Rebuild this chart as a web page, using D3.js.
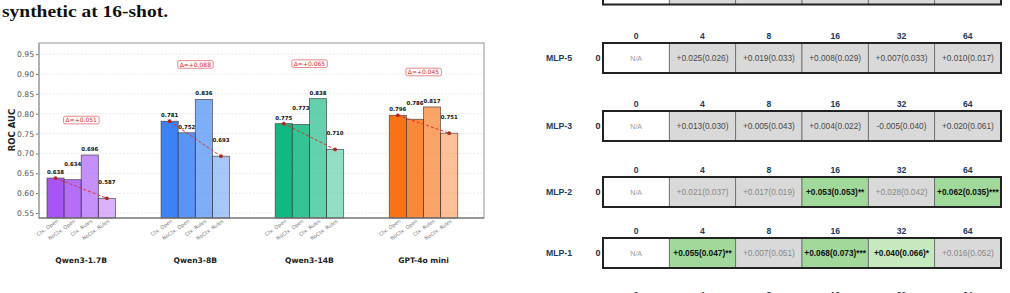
<!DOCTYPE html>
<html>
<head>
<meta charset="utf-8">
<script src="https://cdn.jsdelivr.net/npm/d3@7"></script>
<style>
  body { margin: 0; background: #fff; }
  svg { display: block; }
</style>
</head>
<body>
<div id="chart"></div>
<script>
// ---- data: left bar chart ----
var models = ["Qwen3-1.7B", "Qwen3-8B", "Qwen3-14B", "GPT-4o mini"];
var conditions = ["Ctx. Open", "NoCtx. Open", "Ctx. Rules", "NoCtx. Rules"];
var rocAuc = [
  [0.638, 0.634, 0.696, 0.587],
  [0.781, 0.752, 0.836, 0.693],
  [0.775, 0.773, 0.838, 0.710],
  [0.796, 0.786, 0.817, 0.751]
];
var yTicks = [0.55, 0.60, 0.65, 0.70, 0.75, 0.80, 0.85, 0.90, 0.95];
var modelColors = ["#a855f7", "#3b82f6", "#10b981", "#f97316"];
var shadeOpacity = [1, 0.85, 0.65, 0.45];

// ---- data: right tables ----
var shots = ["0", "4", "8", "16", "32", "64"];
var probes = ["MLP-5", "MLP-3", "MLP-2", "MLP-1"];
var meanDiff = [
  [null, 0.025, 0.019, 0.008, 0.007, 0.010],
  [null, 0.013, 0.005, 0.004, -0.005, 0.020],
  [null, 0.021, 0.017, 0.053, 0.028, 0.062],
  [null, 0.055, 0.007, 0.068, 0.040, 0.016]
];
var sdDiff = [
  [null, 0.026, 0.033, 0.029, 0.033, 0.017],
  [null, 0.030, 0.043, 0.022, 0.040, 0.061],
  [null, 0.037, 0.019, 0.053, 0.042, 0.035],
  [null, 0.047, 0.051, 0.073, 0.066, 0.052]
];
var stars = [
  ["", "", "", "", "", ""],
  ["", "", "", "", "", ""],
  ["", "", "", "**", "", "***"],
  ["", "**", "", "***", "*", ""]
];

var svg = d3.select("#chart")
  .append("svg")
    .attr("width", 1010)
    .attr("height", 293);

// caption fragment at top left
svg.append("text")
  .attr("x", 2)
  .attr("y", 17)
  .attr("textLength", 166)
  .attr("lengthAdjust", "spacingAndGlyphs")
  .style("font-family", "'Liberation Serif', serif")
  .style("font-weight", "bold")
  .style("font-size", "17px")
  .style("fill", "#111")
  .text("synthetic at 16-shot.");

// ---- left chart ----
var plot = {left: 39, right: 484, top: 43, bottom: 218};
var font = "'DejaVu Sans', sans-serif";

var y = d3.scaleLinear()
  .domain([0.5375, 0.978])
  .range([plot.bottom, plot.top]);

var x = d3.scaleLinear()
  .domain([-0.37, 3.53])
  .range([plot.left, plot.right]);

var barW = 0.15;
function barX(i, j) { return x(i + (j - 2) * barW); }
function barC(i, j) { return x(i + (j - 1.5) * barW); }

// grid
svg.append("g")
  .selectAll("line")
  .data(yTicks)
  .enter()
  .append("line")
    .attr("x1", plot.left)
    .attr("x2", plot.right)
    .attr("y1", function(d) { return y(d); })
    .attr("y2", function(d) { return y(d); })
    .attr("stroke", "#e2e2e2")
    .attr("stroke-width", 0.7)
    .attr("stroke-dasharray", "2,1.5");

// y axis
var yAxis = svg.append("g")
  .attr("transform", "translate(" + plot.left + ",0)")
  .call(d3.axisLeft(y).tickValues(yTicks).tickFormat(d3.format(".2f")).tickSize(3).tickPadding(2));
yAxis.select(".domain").remove();
yAxis.selectAll(".tick line").attr("stroke", "#777");
yAxis.selectAll("text")
  .style("font-family", font)
  .style("font-size", "7.6px")
  .style("fill", "#555");

svg.append("text")
  .attr("transform", "translate(15,130) rotate(-90)")
  .attr("text-anchor", "middle")
  .style("font-family", font)
  .style("font-weight", "bold")
  .style("font-size", "8.5px")
  .style("fill", "#222")
  .text("ROC AUC");

// bars
var groups = svg.append("g").selectAll("g")
  .data(rocAuc)
  .enter()
  .append("g");

groups.selectAll("rect")
  .data(function(d, i) { return d.map(function(v, j) { return {i: i, j: j, v: v}; }); })
  .enter()
  .append("rect")
    .attr("x", function(d) { return barX(d.i, d.j); })
    .attr("width", function(d) { return barX(d.i, d.j + 1) - barX(d.i, d.j); })
    .attr("y", function(d) { return y(d.v); })
    .attr("height", function(d) { return plot.bottom - y(d.v); })
    .attr("fill", function(d) { return modelColors[d.i]; })
    .attr("fill-opacity", function(d) { return shadeOpacity[d.j]; })
    .attr("stroke", "#333")
    .attr("stroke-opacity", 0.75)
    .attr("stroke-width", 0.8);

// frame
svg.append("rect")
  .attr("x", plot.left)
  .attr("y", plot.top)
  .attr("width", plot.right - plot.left)
  .attr("height", plot.bottom - plot.top)
  .attr("fill", "none")
  .attr("stroke", "#888")
  .attr("stroke-width", 0.9);
svg.append("line")
  .attr("x1", plot.left).attr("x2", plot.left)
  .attr("y1", plot.top).attr("y2", plot.bottom)
  .attr("stroke", "#aaa").attr("stroke-width", 1.6);
svg.append("line")
  .attr("x1", plot.left).attr("x2", plot.right)
  .attr("y1", plot.bottom).attr("y2", plot.bottom)
  .attr("stroke", "#666").attr("stroke-width", 1);

// value labels
groups.selectAll("text.val")
  .data(function(d, i) { return d.map(function(v, j) { return {i: i, j: j, v: v, all: d}; }); })
  .enter()
  .append("text")
    .attr("class", "val")
    .attr("x", function(d) { return barC(d.i, d.j); })
    .attr("y", function(d) {
      var lift = 4;
      if (d.j == 3 || (d.j == 1 && Math.abs(d.all[0] - d.v) < 0.02)) lift = 14;
      return y(d.v) - lift;
    })
    .attr("text-anchor", "middle")
    .style("font-family", font)
    .style("font-weight", "bold")
    .style("font-size", "5.4px")
    .style("fill", "#111")
    .text(function(d) { return d.v.toFixed(3); });

// drop lines (Ctx. Open -> NoCtx. Rules)
groups.append("line")
  .attr("x1", function(d, i) { return barC(i, 0); })
  .attr("y1", function(d) { return y(d[0]); })
  .attr("x2", function(d, i) { return barC(i, 3); })
  .attr("y2", function(d) { return y(d[3]); })
  .attr("stroke", "#e0302a")
  .attr("stroke-width", 1)
  .attr("stroke-dasharray", "3,2");

groups.selectAll("circle")
  .data(function(d, i) { return [{i: i, j: 0, v: d[0]}, {i: i, j: 3, v: d[3]}]; })
  .enter()
  .append("circle")
    .attr("cx", function(d) { return barC(d.i, d.j); })
    .attr("cy", function(d) { return y(d.v); })
    .attr("r", 1.9)
    .attr("fill", "#b3261e");

// delta badges
groups.each(function(d, i) {
  var g = d3.select(this);
  var cx = x(i), cy = y(d3.max(d) + 0.088);
  var t = g.append("text")
    .attr("x", cx)
    .attr("y", cy + 2.1)
    .attr("text-anchor", "middle")
    .style("font-family", font)
    .style("font-size", "6px")
    .style("fill", "#dc2626")
    .text("\u0394=+" + (d[0] - d[3]).toFixed(3));
  var bb = t.node().getBBox();
  g.insert("rect", "text:last-child")
    .attr("x", bb.x - 2)
    .attr("y", cy - 3.8)
    .attr("width", bb.width + 4)
    .attr("height", 7.6)
    .attr("rx", 1.5)
    .attr("fill", "#fff")
    .attr("stroke", "#e36a6a")
    .attr("stroke-width", 0.8);
});

// condition tick labels
groups.selectAll("text.cond")
  .data(function(d, i) { return conditions.map(function(c, j) { return {i: i, j: j, c: c}; }); })
  .enter()
  .append("text")
    .attr("class", "cond")
    .attr("transform", function(d) { return "translate(" + (barC(d.i, d.j) + 3) + "," + (plot.bottom + 4) + ") rotate(-35)"; })
    .attr("text-anchor", "end")
    .style("font-family", font)
    .style("font-size", "5px")
    .style("fill", "#777")
    .text(function(d) { return d.c; });

// model labels
svg.append("g").selectAll("text")
  .data(models)
  .enter()
  .append("text")
    .attr("x", function(d, i) { return x(i); })
    .attr("y", 263)
    .attr("text-anchor", "middle")
    .style("font-family", font)
    .style("font-weight", "bold")
    .style("font-size", "7.6px")
    .style("fill", "#222")
    .text(function(d) { return d; });

// ---- right tables ----
var sans = "'Liberation Sans', Arial, sans-serif";
var navy = "#1c3a5e";
var col = d3.scaleBand().domain(shots).range([603, 1001]);
var cellH = 30;
var tableTops = [43, 111, 177, 238];

function cellText(r, c) {
  if (meanDiff[r][c] === null) return "N/A";
  var m = meanDiff[r][c];
  return (m >= 0 ? "+" : "") + m.toFixed(3) + "(" + sdDiff[r][c].toFixed(3) + ")" + stars[r][c];
}
function cellFill(r, c) {
  if (meanDiff[r][c] === null) return "#fff";
  var s = stars[r][c];
  if (s == "*") return "#c7e9c0";
  if (s.length > 1) return "#a1d99b";
  return "#d9d9d9";
}

function drawHeader(top) {
  svg.append("g").selectAll("text")
    .data(shots)
    .enter()
    .append("text")
      .attr("x", function(d) { return col(d) + col.bandwidth() / 2; })
      .attr("y", top - 4.5)
      .attr("text-anchor", "middle")
      .style("font-family", sans)
      .style("font-weight", "bold")
      .style("font-size", "8.6px")
      .style("fill", navy)
      .text(function(d) { return d; });
}

// partial table cut at the top edge
var partial = svg.append("g");
partial.selectAll("rect")
  .data(shots)
  .enter()
  .append("rect")
    .attr("x", function(d) { return col(d); })
    .attr("y", 4.5 - cellH)
    .attr("width", col.bandwidth())
    .attr("height", cellH)
    .attr("fill", function(d, c) { return c == 0 ? "#fff" : "#d9d9d9"; })
    .attr("stroke", "#666")
    .attr("stroke-width", 0.8);
partial.append("rect")
  .attr("x", 603).attr("y", 4.5 - cellH)
  .attr("width", 398).attr("height", cellH)
  .attr("fill", "none").attr("stroke", "#222").attr("stroke-width", 2);

probes.forEach(function(p, r) {
  var top = tableTops[r];
  drawHeader(top);
  var g = svg.append("g");
  var faded = stars[r].some(function(s) { return s != ""; });

  g.selectAll("rect")
    .data(shots)
    .enter()
    .append("rect")
      .attr("x", function(d) { return col(d); })
      .attr("y", top)
      .attr("width", col.bandwidth())
      .attr("height", cellH)
      .attr("fill", function(d, c) { return cellFill(r, c); })
      .attr("stroke", "#666")
      .attr("stroke-width", 0.8);

  g.selectAll("text")
    .data(shots)
    .enter()
    .append("text")
      .attr("x", function(d) { return col(d) + col.bandwidth() / 2; })
      .attr("y", top + cellH / 2 + 3)
      .attr("text-anchor", "middle")
      .style("font-family", sans)
      .style("font-size", function(d, c) { return meanDiff[r][c] === null ? "7px" : "8.3px"; })
      .style("font-weight", function(d, c) { return stars[r][c] ? "bold" : "normal"; })
      .style("fill", function(d, c) {
        if (meanDiff[r][c] === null) return "#999";
        if (stars[r][c]) return "#111";
        return faded ? "#888" : "#4a4a4a";
      })
      .text(function(d, c) { return cellText(r, c); });

  g.append("rect")
    .attr("x", 603).attr("y", top)
    .attr("width", 398).attr("height", cellH)
    .attr("fill", "none").attr("stroke", "#222").attr("stroke-width", 2);

  g.append("text")
    .attr("x", 546)
    .attr("y", top + cellH / 2 + 3)
    .style("font-family", sans)
    .style("font-weight", "bold")
    .style("font-size", "8.7px")
    .style("fill", navy)
    .text(p);

  g.append("text")
    .attr("x", 598)
    .attr("y", top + cellH / 2 + 3.2)
    .attr("text-anchor", "middle")
    .style("font-family", sans)
    .style("font-weight", "bold")
    .style("font-size", "9px")
    .style("fill", "#1e2a3a")
    .text("0");
});

// header of the next table, cut at the bottom edge
drawHeader(302);
</script>
</body>
</html>
